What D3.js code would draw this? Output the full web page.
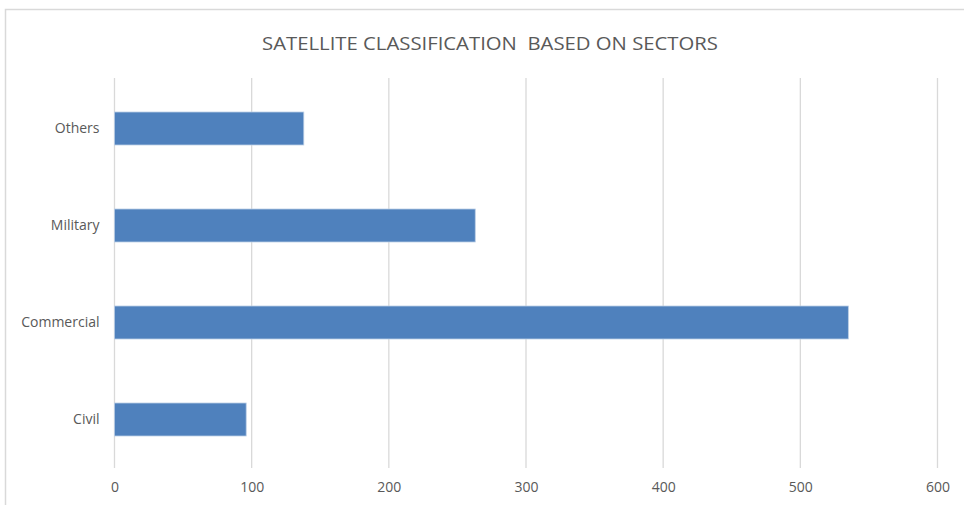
<!DOCTYPE html>
<html>
<head>
<meta charset="utf-8">
<script src="https://cdn.jsdelivr.net/npm/d3@7"></script>
<style>
  body { margin: 0; background: #fff; }
  text { font-family: "Open Sans", "Liberation Sans", sans-serif; fill: #595959; }
</style>
</head>
<body>
<div id="chart"></div>
<script>
// data
const categories = ["Others", "Military", "Commercial", "Civil"]
const values = [138, 263, 535, 96]
const xTicks = [0, 100, 200, 300, 400, 500, 600]
const title = "SATELLITE CLASSIFICATION  BASED ON SECTORS"

const width = 964, height = 505
const plot = { left: 114.5, right: 937.5, top: 80, bottom: 468 }

const svg = d3.select("#chart").append("svg")
    .attr("width", width)
    .attr("height", height)

// chart frame (only top and left edges show in the crop)
svg.append("path")
    .attr("d", "M5.5," + height + "V9.5H" + width)
    .attr("fill", "none")
    .attr("stroke", "#d9d9d9")
    .attr("stroke-width", 1.5)

const x = d3.scaleLinear().domain([0, 600]).range([plot.left, plot.right])
const y = d3.scaleBand().domain(categories).range([plot.top, plot.bottom]).paddingInner(0.66).paddingOuter(0.33)

// gridlines
svg.append("g").selectAll("line")
    .data(xTicks)
    .enter().append("line")
    .attr("x1", d => x(d)).attr("x2", d => x(d))
    .attr("y1", plot.top - 2).attr("y2", plot.bottom)
    .attr("stroke", "#d9d9d9")
    .attr("stroke-width", 1.3)

// bars
svg.append("g").selectAll("rect")
    .data(categories)
    .enter().append("rect")
    .attr("x", x(0))
    .attr("y", d => y(d))
    .attr("width", (d, i) => x(values[i]) - x(0))
    .attr("height", y.bandwidth())
    .attr("fill", "#4f81bd")
    .attr("stroke", "#b9cde5")
    .attr("stroke-width", 0.8)

// x tick labels
const xAxis = svg.append("g")
    .attr("transform", "translate(0," + (plot.bottom + 20) + ")")
    .call(d3.axisBottom(x).tickValues(xTicks).tickSize(0).tickPadding(0))
xAxis.select(".domain").remove()
xAxis.selectAll("text")
    .attr("font-size", 14)
    .attr("font-family", null)
    .attr("dy", "0.32em")

// category labels
const yAxis = svg.append("g")
    .attr("transform", "translate(" + (plot.left - 15) + ",0)")
    .call(d3.axisLeft(y).tickSize(0).tickPadding(0))
yAxis.select(".domain").remove()
yAxis.selectAll("text")
    .attr("font-size", 14)
    .attr("font-family", null)

// title
svg.append("text")
    .attr("x", 490)
    .attr("y", 43)
    .attr("dy", "0.35em")
    .attr("text-anchor", "middle")
    .attr("font-size", 19)
    .attr("textLength", 456)
    .attr("lengthAdjust", "spacingAndGlyphs")
    .style("white-space", "pre")
    .text(title)
</script>
</body>
</html>
